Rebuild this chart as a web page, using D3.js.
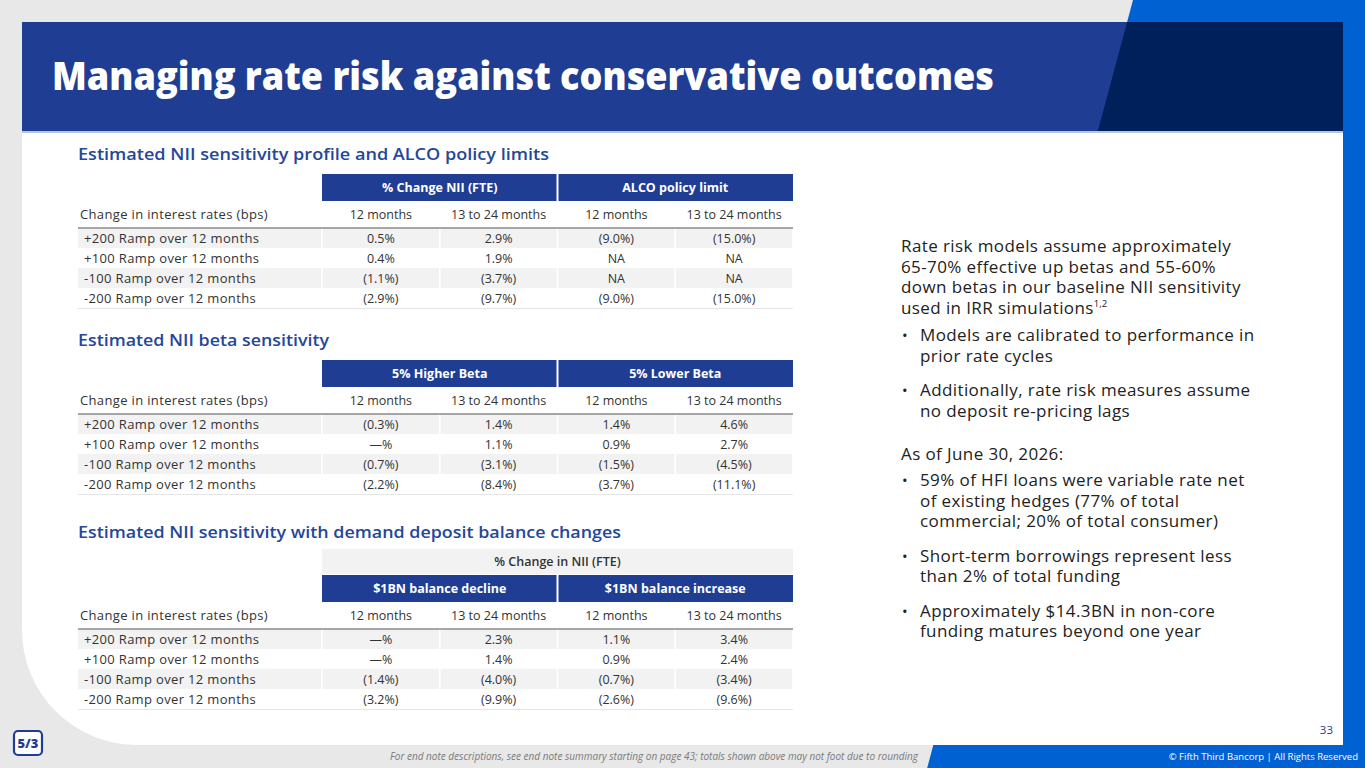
<!DOCTYPE html>
<html>
<head>
<meta charset="utf-8">
<script src="https://cdn.jsdelivr.net/npm/d3@7"></script>
<style>
  body { margin: 0; background: #e8e8e8; }
  svg { display: block; font-family: "Open Sans", Lato, sans-serif; }
</style>
</head>
<body>
<svg id="drawing_region"></svg>
<script>
// ---- data ----
const rowLabels = ["+200 Ramp over 12 months", "+100 Ramp over 12 months", "-100 Ramp over 12 months", "-200 Ramp over 12 months"];
const periods = ["12 months", "13 to 24 months", "12 months", "13 to 24 months"];
const stubLabel = "Change in interest rates (bps)";

const t1Title = "Estimated NII sensitivity profile and ALCO policy limits";
const t1Groups = ["% Change NII (FTE)", "ALCO policy limit"];
const t1Values = [
  ["0.5%", "2.9%", "(9.0%)", "(15.0%)"],
  ["0.4%", "1.9%", "NA", "NA"],
  ["(1.1%)", "(3.7%)", "NA", "NA"],
  ["(2.9%)", "(9.7%)", "(9.0%)", "(15.0%)"]
];

const t2Title = "Estimated NII beta sensitivity";
const t2Groups = ["5% Higher Beta", "5% Lower Beta"];
const t2Values = [
  ["(0.3%)", "1.4%", "1.4%", "4.6%"],
  ["\u2014%", "1.1%", "0.9%", "2.7%"],
  ["(0.7%)", "(3.1%)", "(1.5%)", "(4.5%)"],
  ["(2.2%)", "(8.4%)", "(3.7%)", "(11.1%)"]
];

const t3Title = "Estimated NII sensitivity with demand deposit balance changes";
const t3Super = "% Change in NII (FTE)";
const t3Groups = ["$1BN balance decline", "$1BN balance increase"];
const t3Values = [
  ["\u2014%", "2.3%", "1.1%", "3.4%"],
  ["\u2014%", "1.4%", "0.9%", "2.4%"],
  ["(1.4%)", "(4.0%)", "(0.7%)", "(3.4%)"],
  ["(3.2%)", "(9.9%)", "(2.6%)", "(9.6%)"]
];

const pageTitle = "Managing rate risk against conservative outcomes";
const introLines = ["Rate risk models assume approximately", "65-70% effective up betas and 55-60%", "down betas in our baseline NII sensitivity", "used in IRR simulations"];
const introNote = "1,2";
const bullets1 = [
  ["Models are calibrated to performance in", "prior rate cycles"],
  ["Additionally, rate risk measures assume", "no deposit re-pricing lags"]
];
const asOfLabel = "As of June 30, 2026:";
const bullets2 = [
  ["59% of HFI loans were variable rate net", "of existing hedges (77% of total", "commercial; 20% of total consumer)"],
  ["Short-term borrowings represent less", "than 2% of total funding"],
  ["Approximately $14.3BN in non-core", "funding matures beyond one year"]
];
const footNote = "For end note descriptions, see end note summary starting on page 43; totals shown above may not foot due to rounding";
const copyright = "\u00a9 Fifth Third Bancorp | All Rights Reserved";
const pageNum = "33";

// ---- layout ----
const W = 1365, H = 768;
const BLUE = "#1f3e93", NAVY = "#00205b", BRIGHT = "#0061d2", TXT = "#333333";

const svg = d3.select("#drawing_region").attr("width", W).attr("height", H);

// background shapes
svg.append("rect").attr("width", W).attr("height", H).attr("fill", "#e8e8e8");
const slant = y => 1133 - 0.268 * y;
svg.append("path")
  .attr("d", `M${slant(0)},0 L${W},0 L${W},${H} L${slant(H)},${H} Z`)
  .attr("fill", BRIGHT);

// white card with rounded bottom-left corner
const cx0 = 22, cy0 = 22, cx1 = 1343, cy1 = 745, r = 115;
svg.append("path")
  .attr("d", `M${cx0},${cy0} L${cx1},${cy0} L${cx1},${cy1} L${cx0 + r},${cy1} A${r},${r} 0 0 1 ${cx0},${cy1 - r} Z`)
  .attr("fill", "#ffffff");

// header band
svg.append("rect").attr("x", cx0).attr("y", cy0).attr("width", cx1 - cx0).attr("height", 109).attr("fill", BLUE);
svg.append("path")
  .attr("d", `M${slant(cy0)},${cy0} L${cx1},${cy0} L${cx1},131 L${slant(131)},131 Z`)
  .attr("fill", NAVY);
svg.append("line").attr("x1", cx0).attr("x2", cx1).attr("y1", 132).attr("y2", 132)
  .attr("stroke", "#b9c4de").attr("stroke-width", 2);

svg.append("text")
  .attr("x", 52).attr("y", 90)
  .attr("fill", "#fff").attr("font-size", 38).attr("font-weight", 800)
  .attr("textLength", 942).attr("lengthAdjust", "spacingAndGlyphs")
  .text(pageTitle);

// ---- tables ----
const tableLeft = 78, valLeft = 322, tableRight = 793;
const xCol = d3.scaleBand().domain(d3.range(4)).range([valLeft, tableRight]);
const xGroup = d3.scaleBand().domain(d3.range(2)).range([valLeft, tableRight]);
const FS = 12.5;

function drawTable(cfg) {
  const g = svg.append("g");
  g.append("text")
    .attr("x", tableLeft).attr("y", cfg.titleY)
    .attr("fill", "#24479a").attr("font-size", 16.5).attr("font-weight", 600)
    .attr("textLength", cfg.titleW).attr("lengthAdjust", "spacingAndGlyphs")
    .text(cfg.title);

  let y = cfg.top;
  if (cfg.superHead) {
    g.append("rect").attr("x", valLeft).attr("y", y).attr("width", tableRight - valLeft).attr("height", 25).attr("fill", "#f2f2f2");
    g.append("text").attr("x", (valLeft + tableRight) / 2).attr("y", y + 17)
      .attr("text-anchor", "middle").attr("font-size", FS).attr("font-weight", 600).attr("fill", TXT)
      .text(cfg.superHead);
    y += 26;
  }

  // blue group header
  g.selectAll(".grp").data(cfg.groups).join("rect")
    .attr("x", (d, i) => xGroup(i) + (i ? 1 : 0))
    .attr("y", y).attr("width", (d, i) => xGroup.bandwidth() - 1).attr("height", 27)
    .attr("fill", BLUE);
  g.selectAll(".grpt").data(cfg.groups).join("text")
    .attr("x", (d, i) => xGroup(i) + xGroup.bandwidth() / 2).attr("y", y + 18)
    .attr("text-anchor", "middle").attr("fill", "#fff").attr("font-size", FS).attr("font-weight", 700)
    .text(d => d);
  y += 27;

  // period subheader
  g.append("text").attr("x", 80).attr("y", y + 18).attr("font-size", 13).attr("letter-spacing", 0.35)
    .attr("fill", TXT).text(stubLabel);
  g.selectAll(".per").data(periods).join("text")
    .attr("x", (d, i) => xCol(i) + xCol.bandwidth() / 2).attr("y", y + 18)
    .attr("text-anchor", "middle").attr("font-size", FS).attr("fill", TXT)
    .text(d => d);
  y += 27;

  // rows
  const yRow = d3.scaleBand().domain(rowLabels).range([y, y + 80]);
  const rows = g.selectAll(".row").data(rowLabels).join("g")
    .attr("transform", d => `translate(0,${yRow(d)})`);
  rows.append("rect")
    .attr("x", tableLeft).attr("width", tableRight - tableLeft).attr("height", yRow.bandwidth())
    .attr("fill", (d, i) => i % 2 === 0 ? "#f2f2f2" : "#ffffff");
  // white column separators
  rows.selectAll(".sep").data(d3.range(5)).join("line")
    .attr("x1", (d, i) => i === 0 ? valLeft : xCol(i - 1) + xCol.bandwidth())
    .attr("x2", (d, i) => i === 0 ? valLeft : xCol(i - 1) + xCol.bandwidth())
    .attr("y1", 0).attr("y2", yRow.bandwidth())
    .attr("stroke", "#fff").attr("stroke-width", 1.5);
  rows.append("text").attr("x", 84).attr("y", 14.5).attr("font-size", 13).attr("letter-spacing", 0.35)
    .attr("fill", TXT).text(d => d);
  rows.selectAll(".val").data((d, i) => cfg.values[i]).join("text")
    .attr("x", (d, i) => xCol(i) + xCol.bandwidth() / 2).attr("y", 14.5)
    .attr("text-anchor", "middle").attr("font-size", FS).attr("fill", TXT)
    .text(d => d);

  g.append("line").attr("x1", tableLeft).attr("x2", tableRight).attr("y1", y).attr("y2", y)
    .attr("stroke", "#8a8a8a").attr("stroke-width", 1.5);
  g.append("line").attr("x1", tableLeft).attr("x2", tableRight).attr("y1", y + 80.5).attr("y2", y + 80.5)
    .attr("stroke", "#e6e6e6").attr("stroke-width", 1);
}

drawTable({ title: t1Title, titleY: 160, titleW: 471, top: 174, groups: t1Groups, values: t1Values });
drawTable({ title: t2Title, titleY: 346, titleW: 251, top: 360, groups: t2Groups, values: t2Values });
drawTable({ title: t3Title, titleY: 538, titleW: 543, top: 549, superHead: t3Super, groups: t3Groups, values: t3Values });

// ---- right text ----
const rt = svg.append("g").attr("fill", "#222").attr("font-size", 17).attr("letter-spacing", 0.4);
const lh = 20.5;
introLines.forEach((t, i) => {
  const tx = rt.append("text").attr("x", 901).attr("y", 252 + i * lh).text(t);
  if (i === introLines.length - 1) {
    tx.append("tspan").attr("font-size", 9.5).attr("letter-spacing", 0).attr("dy", -7).text(introNote);
  }
});
function drawBullets(list, startY, gap) {
  let y = startY;
  list.forEach(lines => {
    rt.append("text").attr("x", 902).attr("y", y).attr("font-size", 15).text("\u2022");
    lines.forEach((t, j) => rt.append("text").attr("x", 920).attr("y", y + j * lh).text(t));
    y += lines.length * lh + gap;
  });
}
drawBullets(bullets1, 341, 14);
rt.append("text").attr("x", 901).attr("y", 460).text(asOfLabel);
drawBullets(bullets2, 486, 14);

// ---- footer ----
svg.append("text").attr("x", 1333).attr("y", 734).attr("text-anchor", "end")
  .attr("font-size", 11.5).attr("fill", BLUE).text(pageNum);
svg.append("text").attr("x", 918).attr("y", 760).attr("text-anchor", "end")
  .attr("font-size", 10).attr("font-style", "italic").attr("fill", "#7a7a7a")
  .attr("textLength", 528).attr("lengthAdjust", "spacingAndGlyphs").text(footNote);
svg.append("text").attr("x", 1358).attr("y", 760).attr("text-anchor", "end")
  .attr("font-size", 9.5).attr("fill", "#fff").text(copyright);

// logo
const logo = svg.append("g").attr("transform", "translate(14,731)");
logo.append("rect").attr("width", 28).attr("height", 24).attr("rx", 4)
  .attr("fill", "#fff").attr("stroke", "#1f3e93").attr("stroke-width", 2.2);
logo.append("text").attr("x", 14).attr("y", 17).attr("text-anchor", "middle")
  .attr("font-size", 13).attr("font-weight", 800).attr("fill", "#1f3e93").text("5/3");
</script>
</body>
</html>
